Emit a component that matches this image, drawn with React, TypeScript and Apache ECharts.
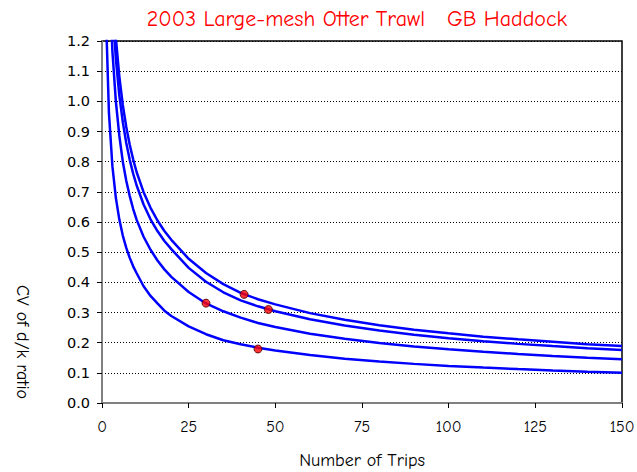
import React, { useEffect, useRef } from "react";
import * as echarts from "echarts";

const titleText = "2003 Large-mesh Otter Trawl   GB Haddock";
const xName = "Number of Trips";
const yName = "CV of d/k ratio";

const xTicks = [0, 25, 50, 75, 100, 125, 150];

const tripsA = [3, 4, 5, 6, 7, 8, 9, 10, 12, 14, 16, 18, 20, 25, 30, 35, 40, 45, 50, 60, 70, 80, 90, 100, 110, 120, 130, 140, 150];
const cvA = [1.397, 1.21, 1.082, 0.988, 0.915, 0.856, 0.807, 0.765, 0.699, 0.647, 0.605, 0.57, 0.541, 0.478, 0.431, 0.394, 0.365, 0.344, 0.327, 0.298, 0.276, 0.258, 0.243, 0.231, 0.22, 0.211, 0.203, 0.195, 0.189];

const tripsB = [3, 4, 5, 6, 7, 8, 9, 10, 12, 14, 16, 18, 20, 25, 30, 35, 40, 45, 50, 60, 70, 80, 90, 100, 110, 120, 130, 140, 150];
const cvB = [1.316, 1.14, 1.02, 0.931, 0.862, 0.806, 0.76, 0.721, 0.658, 0.609, 0.57, 0.537, 0.51, 0.448, 0.402, 0.367, 0.34, 0.3205, 0.304, 0.2776, 0.257, 0.24, 0.2266, 0.215, 0.205, 0.196, 0.1886, 0.1817, 0.1755];

const tripsC = [2, 3, 4, 5, 6, 7, 8, 9, 10, 12, 14, 16, 18, 20, 25, 30, 35, 40, 45, 50, 60, 70, 80, 90, 100, 110, 120, 130, 140, 150];
const cvC = [1.443, 1.166, 1.0, 0.886, 0.8, 0.737, 0.686, 0.643, 0.607, 0.551, 0.508, 0.4725, 0.443, 0.418, 0.368, 0.33, 0.304, 0.283, 0.265, 0.2517, 0.2298, 0.2127, 0.199, 0.1876, 0.178, 0.1697, 0.1625, 0.1561, 0.1504, 0.1453];

const tripsD = [1, 2, 3, 4, 5, 6, 7, 8, 9, 10, 12, 14, 16, 18, 20, 25, 30, 35, 40, 45, 50, 60, 70, 80, 90, 100, 110, 120, 130, 140, 150];
const cvD = [1.34, 0.962, 0.785, 0.68, 0.608, 0.555, 0.514, 0.481, 0.453, 0.43, 0.387, 0.355, 0.33, 0.306, 0.2885, 0.254, 0.228, 0.208, 0.1945, 0.1834, 0.174, 0.1588, 0.147, 0.1375, 0.1297, 0.123, 0.1173, 0.1123, 0.1079, 0.104, 0.1004];

const obsTrips = [41, 30, 48, 45];
const obsCV = [0.36, 0.331, 0.31, 0.179];

const comic = "'Comic Sans MS', 'Comic Neue', Lato, sans-serif";

function pairs(xs: number[], ys: number[]) {
  return xs.map((x, i) => [x, ys[i]]);
}

export default function App() {
  const ref = useRef<HTMLDivElement>(null);
  useEffect(() => {
    if (!ref.current) return;
    const chart = echarts.init(ref.current, undefined, { renderer: "svg" });
    const lineStyle = { color: "#0000FF", width: 2.5 };
    const curves = [
      [tripsA, cvA],
      [tripsB, cvB],
      [tripsC, cvC],
      [tripsD, cvD],
    ].map(([xs, ys]) => ({
      type: "line",
      data: pairs(xs as number[], ys as number[]),
      showSymbol: false,
      symbol: "none",
      lineStyle,
      clip: true,
      z: 3,
    }));
    chart.setOption({
      animation: false,
      backgroundColor: "#ffffff",
      title: {
        text: titleText,
        left: 352,
        top: 3,
        textAlign: "center",
        textStyle: { color: "#FF0000", fontSize: 22, fontWeight: "normal", fontFamily: comic },
      },
      grid: {
        left: 102,
        right: 15,
        top: 41,
        bottom: 69,
        show: true,
        borderColor: "#000000",
        borderWidth: 1.5,
        backgroundColor: "transparent",
        containLabel: false,
        outerBoundsMode: "none",
      },
      xAxis: {
        type: "value",
        min: 0,
        max: 150,
        interval: 25,
        name: xName,
        nameLocation: "middle",
        nameGap: 48,
        nameTextStyle: { color: "#000", fontSize: 18, fontFamily: comic },
        axisLine: { lineStyle: { color: "#808080", width: 2 } },
        axisTick: { show: true, length: 5, lineStyle: { color: "#000", width: 1 } },
        axisLabel: { color: "#000", fontSize: 16, fontFamily: comic, margin: 16 },
        splitLine: { show: false },
      },
      yAxis: {
        type: "value",
        min: 0,
        max: 1.2,
        interval: 0.1,
        axisLine: { show: true, lineStyle: { color: "#808080", width: 2 } },
        axisTick: { show: true, length: 5, lineStyle: { color: "#000", width: 1 } },
        axisLabel: {
          color: "#000",
          fontSize: 14.5,
          fontFamily: "'DejaVu Sans', Verdana, sans-serif",
          margin: 12,
          formatter: (v: number) => v.toFixed(1),
        },
        splitLine: { show: true, lineStyle: { color: "#000", type: [1, 2], width: 1 } },
      },
      graphic: [
        {
          type: "text",
          x: 22,
          y: 342,
          rotation: -Math.PI / 2,
          style: {
            text: yName,
            fill: "#000",
            fontSize: 18,
            fontFamily: comic,
            textAlign: "center",
            textVerticalAlign: "middle",
          },
        },
      ],
      series: [
        ...curves,
        {
          type: "scatter",
          data: pairs(obsTrips, obsCV),
          symbol: "circle",
          symbolSize: 8,
          itemStyle: { color: "#FF0000", borderColor: "#400000", borderWidth: 1 },
          z: 5,
        },
      ],
    });
    return () => chart.dispose();
  }, []);
  return <div ref={ref} style={{ width: 637, height: 472, position: "absolute", left: 0, top: 0 }} />;
}
